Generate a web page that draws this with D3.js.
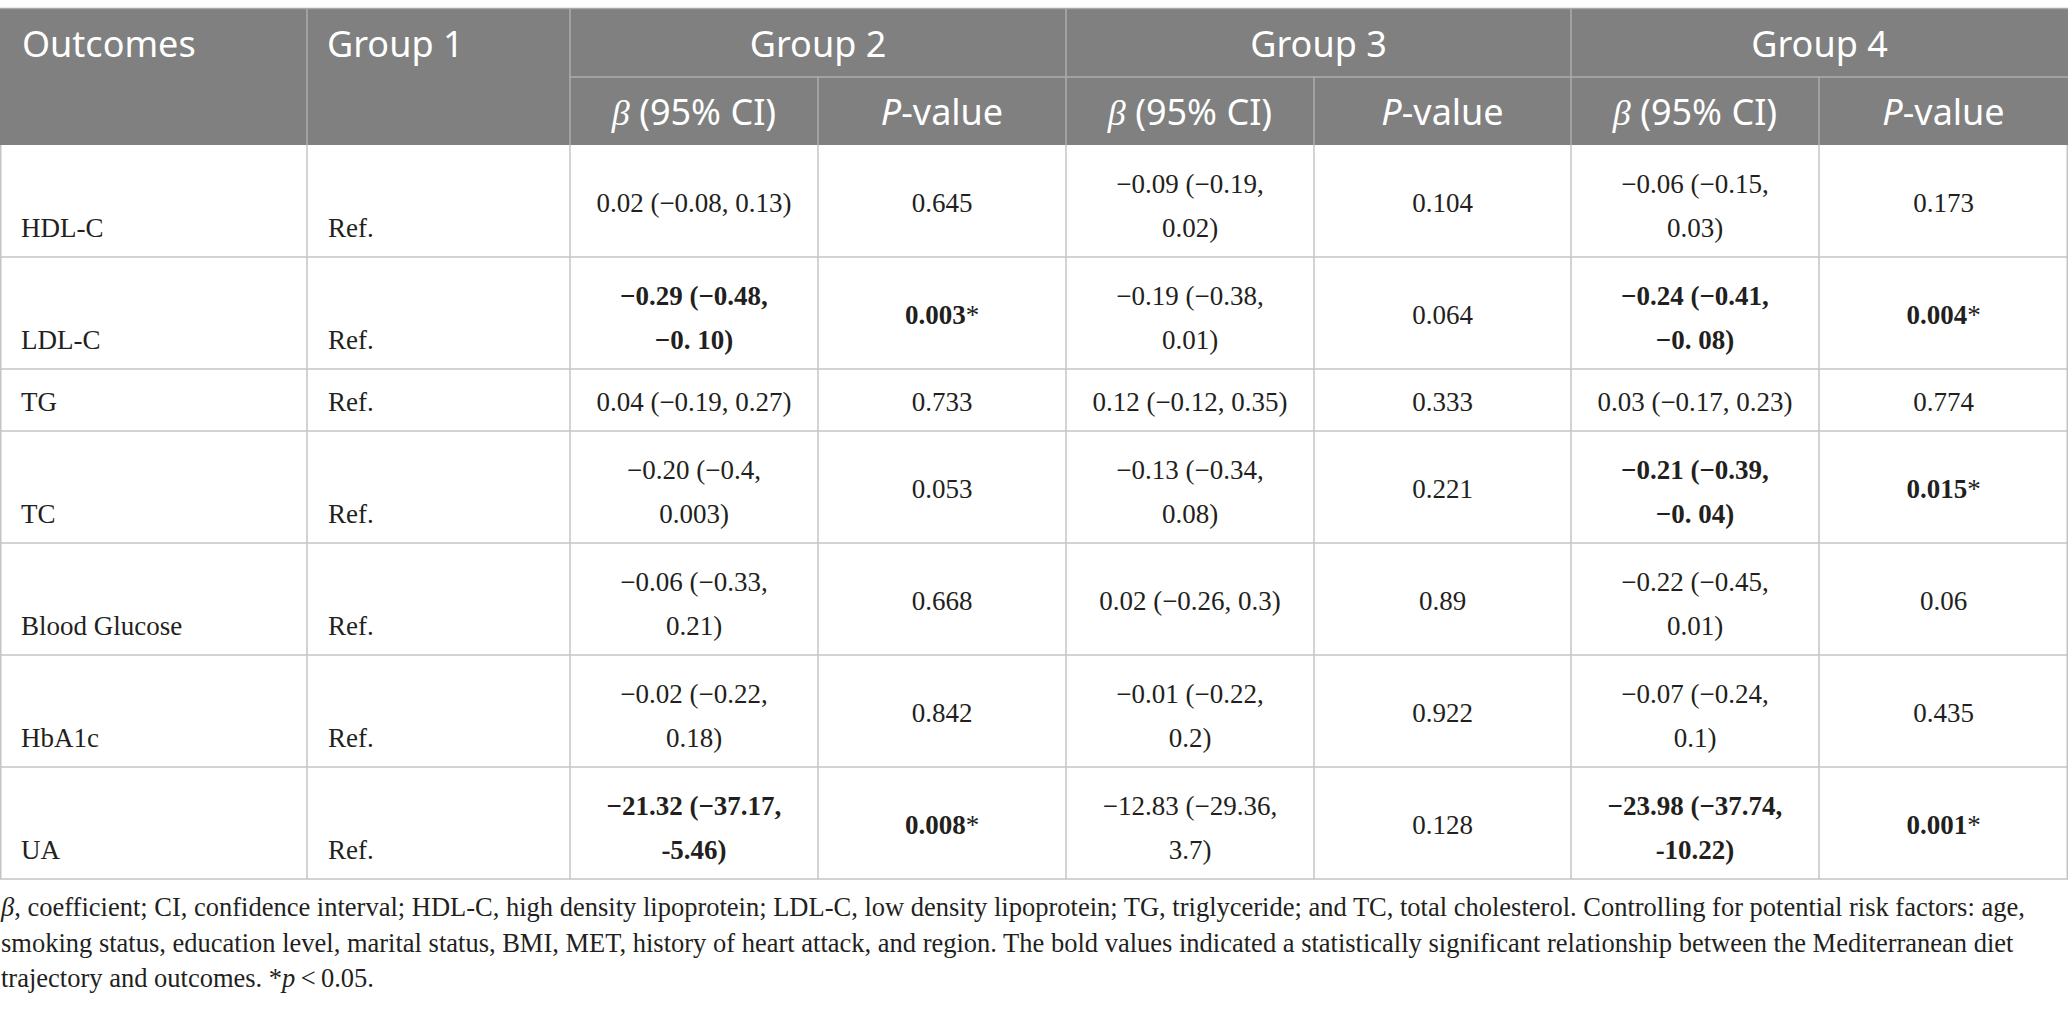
<!DOCTYPE html>
<html>
<head>
<meta charset="utf-8">
<script src="https://cdn.jsdelivr.net/npm/d3@7"></script>
<style>
  body { margin: 0; background: #fff; }
</style>
</head>
<body>
<div id="table"></div>
<script>
// table content
var outcomes = ["HDL-C", "LDL-C", "TG", "TC", "Blood Glucose", "HbA1c", "UA"];
var group1 = ["Ref.", "Ref.", "Ref.", "Ref.", "Ref.", "Ref.", "Ref."];
var groups = ["Group 2", "Group 3", "Group 4"];

var g2Beta = ["0.02 (−0.08, 0.13)", "−0.29 (−0.48, −0. 10)", "0.04 (−0.19, 0.27)", "−0.20 (−0.4, 0.003)",
              "−0.06 (−0.33, 0.21)", "−0.02 (−0.22, 0.18)", "−21.32 (−37.17, -5.46)"];
var g2P = ["0.645", "0.003", "0.733", "0.053", "0.668", "0.842", "0.008"];

var g3Beta = ["−0.09 (−0.19, 0.02)", "−0.19 (−0.38, 0.01)", "0.12 (−0.12, 0.35)", "−0.13 (−0.34, 0.08)",
              "0.02 (−0.26, 0.3)", "−0.01 (−0.22, 0.2)", "−12.83 (−29.36, 3.7)"];
var g3P = ["0.104", "0.064", "0.333", "0.221", "0.89", "0.922", "0.128"];

var g4Beta = ["−0.06 (−0.15, 0.03)", "−0.24 (−0.41, −0. 08)", "0.03 (−0.17, 0.23)", "−0.21 (−0.39, −0. 04)",
              "−0.22 (−0.45, 0.01)", "−0.07 (−0.24, 0.1)", "−23.98 (−37.74, -10.22)"];
var g4P = ["0.173", "0.004", "0.774", "0.015", "0.06", "0.435", "0.001"];

var betas = [g2Beta, g3Beta, g4Beta];
var pvals = [g2P, g3P, g4P];

var width = 2068, height = 1013;
var colW = [307, 263, 248, 248, 248, 257, 248, 249];
var colX = [0].concat(Array.from(d3.cumsum(colW)));
var top0 = 9, headH = 68;
var bodyTop = top0 + 2 * headH;
var serif = "'Liberation Serif', 'Times New Roman', serif";
var sans = "'Noto Sans', 'Open Sans', sans-serif";
var ink = "#231f20";

var svg = d3.select("#table").append("svg")
    .attr("width", width)
    .attr("height", height);

// measuring helper for wrapping the estimates
var probe = svg.append("text")
    .attr("font-family", serif)
    .attr("font-size", 27)
    .attr("visibility", "hidden");
function textW(s, bold) {
  probe.attr("font-weight", bold ? "bold" : "normal").text(s);
  return probe.node().getComputedTextLength();
}
// the source typesets negative estimates on two lines (wider glyphs there)
function wrap(s, bold, maxW) {
  var negative = /^[−-]/.test(s);
  if (!negative && textW(s, bold) <= maxW) return [s];
  var i = s.indexOf(", ");
  return [s.slice(0, i + 1), s.slice(i + 2)];
}

// build the rows
var rows = outcomes.map(function(o, r) {
  var cells = [
    {col: 0, lines: [o], anchor: "start", label: true},
    {col: 1, lines: [group1[r]], anchor: "start", label: true}
  ];
  groups.forEach(function(g, k) {
    var sig = +pvals[k][r] < 0.05;
    var c = 2 + 2 * k;
    cells.push({col: c, lines: wrap(betas[k][r], sig, colW[c] - 40), bold: sig, anchor: "middle"});
    cells.push({col: c + 1, lines: [pvals[k][r]], bold: sig, star: sig, anchor: "middle"});
  });
  var n = d3.max(cells, function(d) { return d.lines.length; });
  return {cells: cells, n: n, h: n > 1 ? 112 : 62};
});
probe.remove();

var rowTop = [bodyTop];
rows.forEach(function(d, i) { rowTop.push(rowTop[i] + d.h); });
var bodyBottom = rowTop[rows.length];

// header
svg.append("rect")
    .attr("x", 0).attr("y", top0)
    .attr("width", width).attr("height", 2 * headH)
    .attr("fill", "#808080");
svg.append("line")
    .attr("x1", 0).attr("x2", width)
    .attr("y1", top0 - 0.5).attr("y2", top0 - 0.5)
    .attr("stroke", "#a9a9a9").attr("stroke-width", 1.5);

var headLines = svg.append("g")
    .attr("stroke", "#adadad")
    .attr("stroke-width", 1.5);
[1, 2, 4, 6].forEach(function(c) {
  headLines.append("line")
      .attr("x1", colX[c]).attr("x2", colX[c])
      .attr("y1", top0).attr("y2", bodyTop);
});
[3, 5, 7].forEach(function(c) {
  headLines.append("line")
      .attr("x1", colX[c]).attr("x2", colX[c])
      .attr("y1", top0 + headH).attr("y2", bodyTop);
});
headLines.append("line")
    .attr("x1", colX[2]).attr("x2", width)
    .attr("y1", top0 + headH).attr("y2", top0 + headH);

var head = svg.append("g")
    .attr("fill", "#fff")
    .attr("font-family", sans)
    .attr("font-size", 36);

head.append("text").attr("x", colX[0] + 22).attr("y", top0 + headH / 2 + 14).text("Outcomes");
head.append("text").attr("x", colX[1] + 20).attr("y", top0 + headH / 2 + 14).text("Group 1");

head.selectAll(".grp")
  .data(groups)
  .enter()
  .append("text")
    .attr("class", "grp")
    .attr("text-anchor", "middle")
    .attr("x", function(d, k) { return (colX[2 + 2 * k] + colX[4 + 2 * k]) / 2; })
    .attr("y", top0 + headH / 2 + 14)
    .text(function(d) { return d; });

groups.forEach(function(g, k) {
  var c = 2 + 2 * k;
  var yb = top0 + headH * 1.5 + 14;
  var t1 = head.append("text")
      .attr("text-anchor", "middle")
      .attr("x", (colX[c] + colX[c + 1]) / 2)
      .attr("y", yb);
  t1.append("tspan").attr("font-family", serif).attr("font-style", "italic").text("β");
  t1.append("tspan").text(" (95% CI)");
  var t2 = head.append("text")
      .attr("text-anchor", "middle")
      .attr("x", (colX[c + 1] + colX[c + 2]) / 2)
      .attr("y", yb);
  t2.append("tspan").attr("font-style", "italic").text("P");
  t2.append("tspan").text("-value");
});

// body grid
var grid = svg.append("g")
    .attr("stroke", "#c4c4c4")
    .attr("stroke-width", 1.5);
grid.selectAll(".hl")
  .data(rowTop.slice(1))
  .enter()
  .append("line")
    .attr("x1", 0).attr("x2", width)
    .attr("y1", function(d) { return d; })
    .attr("y2", function(d) { return d; });
grid.selectAll(".vl")
  .data(colX.map(function(x, i) { return i === 0 ? 0.75 : (i === colX.length - 1 ? x - 0.75 : x); }))
  .enter()
  .append("line")
    .attr("x1", function(d) { return d; })
    .attr("x2", function(d) { return d; })
    .attr("y1", bodyTop).attr("y2", bodyBottom);

// body cells
var rowG = svg.selectAll(".row")
  .data(rows)
  .enter()
  .append("g")
    .attr("class", "row")
    .attr("transform", function(d, i) { return "translate(0," + (rowTop[i] + d.h / 2) + ")"; });

var lineGap = 44, base = 11;
rowG.each(function(row) {
  var g = d3.select(this);
  row.cells.forEach(function(cell) {
    var x = cell.anchor === "start" ? colX[cell.col] + 21 : (colX[cell.col] + colX[cell.col + 1]) / 2;
    cell.lines.forEach(function(line, j) {
      var y;
      if (cell.label) y = row.n > 1 ? base + 3 + lineGap / 2 : base;
      else if (cell.lines.length > 1) y = base + 3 + (j - 0.5) * lineGap;
      else y = base;
      var t = g.append("text")
          .attr("x", x)
          .attr("y", y)
          .attr("text-anchor", cell.anchor)
          .attr("font-family", serif)
          .attr("font-size", 27)
          .attr("fill", ink);
      t.append("tspan").attr("font-weight", cell.bold ? "bold" : "normal").text(line);
      if (cell.star) t.append("tspan").text("*");
    });
  });
});

// footnote
var noteLines = [
  [["β", true], [", coefficient; CI, confidence interval; HDL-C, high density lipoprotein; LDL-C, low density lipoprotein; TG, triglyceride; and TC, total cholesterol. Controlling for potential risk factors: age,", false]],
  [["smoking status, education level, marital status, BMI, MET, history of heart attack, and region. The bold values indicated a statistically significant relationship between the Mediterranean diet", false]],
  [["trajectory and outcomes. *", false], ["p", true], ["\u2009<\u20090.05.", false]]
];
var note = svg.append("g")
    .attr("font-family", serif)
    .attr("font-size", 26.5)
    .attr("fill", ink);
var noteText = note.selectAll("text")
  .data(noteLines)
  .enter()
  .append("text")
    .attr("x", 1)
    .attr("y", function(d, i) { return bodyBottom + 37 + i * 35.5; });
noteText.selectAll("tspan")
  .data(function(d) { return d; })
  .enter()
  .append("tspan")
    .attr("font-style", function(d) { return d[1] ? "italic" : "normal"; })
    .text(function(d) { return d[0]; });

// keep the first line inside the page width
var w0 = noteText.nodes()[0].getComputedTextLength();
if (w0 > width - 4) note.attr("font-size", 26.5 * (width - 4) / w0);
</script>
</body>
</html>
